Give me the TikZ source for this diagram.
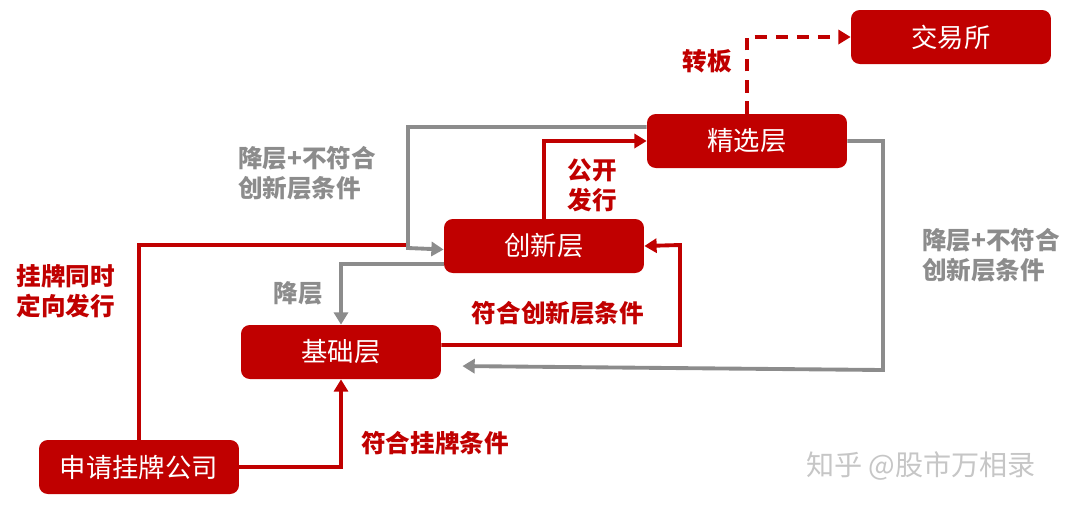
\documentclass[tikz,border=0pt]{standalone}
\usepackage{fontspec}
\setmainfont{Noto Sans CJK SC}
\usepackage{tikz}
\usetikzlibrary{positioning,arrows.meta}
\definecolor{bandred}{HTML}{C00000}
\definecolor{linegray}{HTML}{8C8C8C}

\begin{document}
\begin{tikzpicture}[x=0.02cm, y=-0.02cm,
  layer/.style={draw=none, fill=bandred, rounded corners=5pt, minimum width=4cm, minimum height=1.08cm, text=white, font=\fontsize{15}{18}\selectfont},
  redline/.style={draw=bandred, line width=2.2pt, -{Triangle[length=7pt,width=8pt]}},
  grayline/.style={draw=linegray, line width=2.2pt, -{Triangle[length=7pt,width=8pt]}},
  redlabel/.style={text=bandred, font=\bfseries\fontsize{14}{17}\selectfont, align=left},
  graylabel/.style={text=linegray, font=\bfseries\fontsize{14}{17}\selectfont, align=left}
]
\useasboundingbox (0,0) rectangle (1080,512);

% Layers
\node[layer] (exchange) at (951,37) {交易所};
\node[layer] (select) at (747,141) {精选层};
\node[layer] (innov) at (544,246) {创新层};
\node[layer] (base) at (341,352) {基础层};
\node[layer] (apply) at (139,467) {申请挂牌公司};

% Red connectors
\draw[redline] (apply.east) -| (base.south);
\draw[draw=bandred, line width=2.2pt] (apply.north) |- (408,245);
\draw[redline] ([yshift=4pt]base.east) -| (680,245) -- (innov.east);
\draw[redline] (innov.north) |- (select.west);
\draw[redline, dash pattern=on 7pt off 5pt] (select.north) |- (exchange.west);

% Gray connectors
\draw[grayline] ([yshift=8pt]select.west) -| (408,248) -- ([yshift=-2pt]innov.west);
\draw[grayline] ([yshift=-10pt]innov.west) -| (base.north);
\draw[grayline] (select.east) -| (883,370) -- ([xshift=12pt,yshift=-8pt]base.east);

% Labels
\node[redlabel] (lblList) at (435,443) {符合挂牌条件};
\node[redlabel] (lblIssue) at (66,291) {挂牌同时\\定向发行};
\node[redlabel] (lblUp) at (558,313) {符合创新层条件};
\node[redlabel] (lblPublic) at (592,185) {公开\\发行};
\node[redlabel] (lblTransfer) at (707,61) {转板};
\node[graylabel] (lblDown) at (298,293) {降层};
\node[graylabel] (lblDownA) at (307,173) {降层+不符合\\创新层条件};
\node[graylabel] (lblDownB) at (991,255) {降层+不符合\\创新层条件};

% Watermark
\node[text=gray!45, font=\fontsize{16}{19}\selectfont] (mark) at (921,466) {知乎 @股市万相录};
\end{tikzpicture}
\end{document}
